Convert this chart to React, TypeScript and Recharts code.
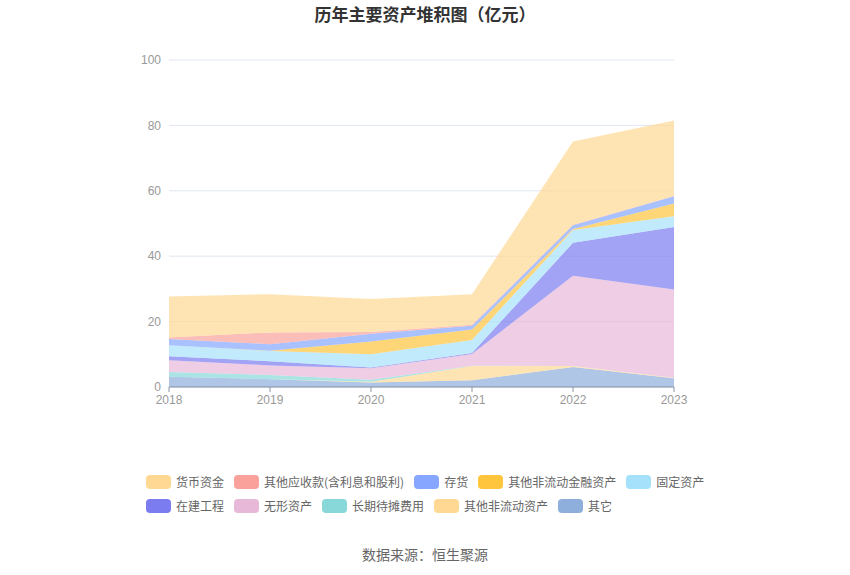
import React from 'react';
import { AreaChart, Area, XAxis, YAxis, CartesianGrid } from 'recharts';

const years = ['2018', '2019', '2020', '2021', '2022', '2023'];
const cash = [12.6, 11.7, 10.1, 9.4, 25.5, 23.1];
const otherRecv = [0.4, 3.6, 0.5, 0.3, 0.1, 0.1];
const inventory = [1.9, 2.0, 2.4, 1.1, 1.2, 2.2];
const otherNcFin = [0, 0.1, 3.9, 3.2, 0.3, 3.9];
const fixedAssets = [3.4, 3.1, 4.0, 4.0, 3.9, 3.3];
const cip = [1.2, 1.3, 0.3, 0.3, 10.1, 19.1];
const intangible = [3.6, 2.9, 3.5, 3.6, 27.6, 27.0];
const ltPrepaid = [1.5, 1.3, 0.6, 0.1, 0, 0];
const otherNc = [0, 0, 0.2, 4.3, 0.3, 0.1];
const others = [3.1, 2.4, 1.4, 2.1, 6.1, 2.7];
const yTicks = [0, 20, 40, 60, 80, 100];

// legend order (top of stack first)
const series = [
  { key: 'cash', name: '货币资金', color: '#FFD993', values: cash },
  { key: 'otherRecv', name: '其他应收款(含利息和股利)', color: '#F9A19A', values: otherRecv },
  { key: 'inventory', name: '存货', color: '#86A6FF', values: inventory },
  { key: 'otherNcFin', name: '其他非流动金融资产', color: '#FFC53D', values: otherNcFin },
  { key: 'fixedAssets', name: '固定资产', color: '#A6E1FB', values: fixedAssets },
  { key: 'cip', name: '在建工程', color: '#7B7CF0', values: cip },
  { key: 'intangible', name: '无形资产', color: '#E8B8D8', values: intangible },
  { key: 'ltPrepaid', name: '长期待摊费用', color: '#88D8DA', values: ltPrepaid },
  { key: 'otherNc', name: '其他非流动资产', color: '#FFD993', values: otherNc },
  { key: 'others', name: '其它', color: '#8EAEDB', values: others },
];

const data = years.map((y, i) => {
  const row: Record<string, string | number> = { year: y };
  series.forEach((s) => {
    row[s.key] = s.values[i];
  });
  return row;
});

const FONT = '"Liberation Sans", "Noto Sans CJK SC", sans-serif';

export default function App() {
  const stackOrder = [...series].reverse();
  return (
    <div style={{ position: 'absolute', left: 0, top: 0, width: 850, height: 575, background: '#fff', fontFamily: FONT }}>
      <div
        style={{
          position: 'absolute',
          left: 0,
          top: 3,
          width: 850,
          textAlign: 'center',
          fontSize: 17,
          lineHeight: '22px',
          fontWeight: 'bold',
          color: '#333',
          fontFamily: '"Noto Sans CJK SC", sans-serif',
        }}
      >
        历年主要资产堆积图（亿元）
      </div>
      <AreaChart
        width={850}
        height={575}
        data={data}
        margin={{ top: 60, right: 176, bottom: 158, left: 129 }}
        style={{ position: 'absolute', left: 0, top: 0 }}
      >
        <CartesianGrid vertical={false} stroke="#E0E6F1" />
        <XAxis
          dataKey="year"
          height={30}
          axisLine={{ stroke: '#8A93A6' }}
          tickLine={{ stroke: '#8A93A6' }}
          tickSize={5}
          tickMargin={3}
          tick={{ fill: '#999', fontSize: 12, fontFamily: FONT }}
          interval={0}
        />
        <YAxis
          width={40}
          domain={[0, 100]}
          ticks={yTicks}
          axisLine={false}
          tickLine={false}
          tick={{ fill: '#999', fontSize: 12, fontFamily: FONT }}
        />
        {stackOrder.map((s) => (
          <Area
            key={s.key}
            type="linear"
            dataKey={s.key}
            name={s.name}
            stackId="a"
            stroke="none"
            fill={s.color}
            fillOpacity={0.7}
            isAnimationActive={false}
            dot={false}
            activeDot={false}
          />
        ))}
      </AreaChart>
      <div
        style={{
          position: 'absolute',
          left: 146,
          top: 475,
          width: 570,
          display: 'flex',
          flexWrap: 'wrap',
          columnGap: 10,
          rowGap: 10,
        }}
      >
        {series.map((s) => (
          <div key={s.key} style={{ display: 'flex', alignItems: 'center', height: 14 }}>
            <div style={{ width: 25, height: 14, borderRadius: 4, background: s.color }} />
            <span
              style={{
                marginLeft: 5,
                fontSize: 12,
                color: '#666',
                whiteSpace: 'nowrap',
                fontFamily: '"Noto Sans CJK SC", sans-serif',
                lineHeight: '14px',
              }}
            >
              {s.name}
            </span>
          </div>
        ))}
      </div>
      <div
        style={{
          position: 'absolute',
          left: 0,
          top: 545,
          width: 850,
          textAlign: 'center',
          fontSize: 14,
          lineHeight: '18px',
          color: '#666',
          fontFamily: '"Noto Sans CJK SC", sans-serif',
        }}
      >
        数据来源：恒生聚源
      </div>
    </div>
  );
}
